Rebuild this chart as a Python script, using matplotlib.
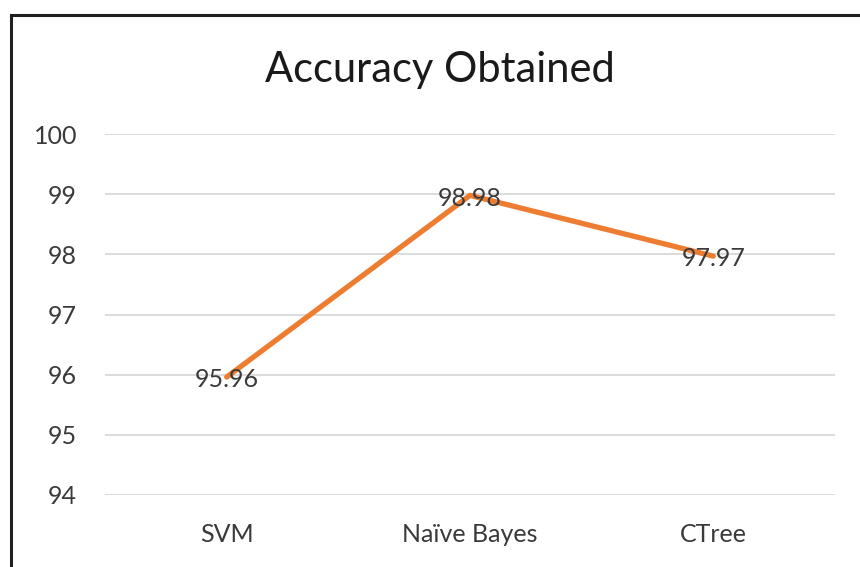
import matplotlib.pyplot as plt
from matplotlib.patches import Rectangle

# data
models = ["SVM", "Naïve Bayes", "CTree"]
accuracy = [95.96, 98.98, 97.97]
yticks = [94, 95, 96, 97, 98, 99, 100]

plt.rcParams['font.family'] = ['Lato', 'DejaVu Sans']

W, H = 860, 567
fig = plt.figure(figsize=(W / 100, H / 100), dpi=100)
ax = fig.add_axes([105 / W, 1 - 495 / H, (835 - 105) / W, (495 - 134) / H])

x = list(range(len(models)))
ax.plot(x, accuracy, color='#ED7D31', linewidth=3.8, solid_capstyle='round', zorder=3)
for xi, v in zip(x, accuracy):
    ax.annotate(f"{v:.2f}", (xi, v), xytext=(0, -2), textcoords='offset points',
                ha='center', va='center', fontsize=18, color='#3a3a3a', zorder=4)

ax.set_xlim(-0.5, 2.5)
ax.set_ylim(94, 100)
ax.set_yticks(yticks)
ax.set_xticks(x)
ax.set_xticklabels(models)
ax.grid(axis='y', color='#D9D9D9', linewidth=1.3)
ax.set_axisbelow(True)
for s in ax.spines.values():
    s.set_visible(False)
ax.tick_params(length=0, labelsize=18, labelcolor='#3a3a3a')
ax.tick_params(axis='y', pad=20)
ax.tick_params(axis='x', pad=20)

fig.text(440 / W, 1 - 70 / H, "Accuracy Obtained", ha='center', va='center',
         fontsize=30, color='#1a1a1a')

# outer frame (right/bottom edges cropped off in the original)
fig.patches.append(Rectangle((11 / W, -0.1), 1.2, 1 - 15 / H + 0.1,
                             transform=fig.transFigure, fill=False,
                             edgecolor='#202020', linewidth=2.2))

fig.savefig("out.png", dpi=100)
